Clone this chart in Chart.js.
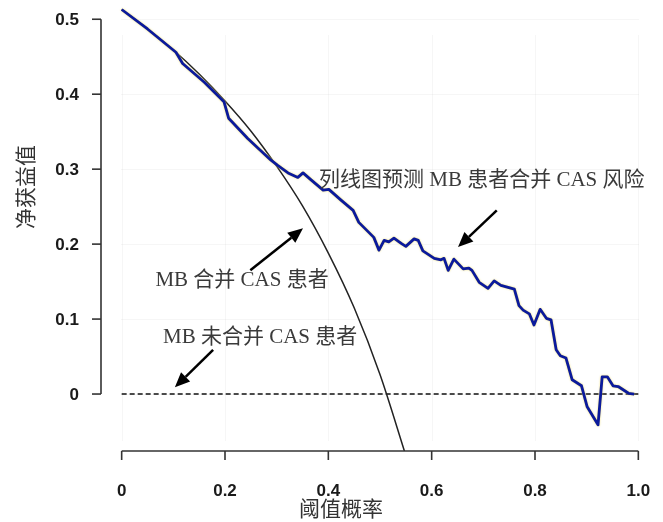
<!DOCTYPE html>
<html>
<head>
<meta charset="utf-8">
<script src="https://cdn.jsdelivr.net/npm/chart.js"></script>
<style>
  html, body { margin: 0; padding: 0; background: #ffffff; }
  #dca { display: block; }
</style>
</head>
<body>
<canvas id="dca" width="663" height="522"></canvas>
<script>
// decision curve: threshold probability vs net benefit
const modelThreshold = [0.000, 0.050, 0.105, 0.118, 0.160, 0.198, 0.207, 0.244, 0.289, 0.302,
    0.322, 0.341, 0.351, 0.366, 0.390, 0.401, 0.424, 0.448, 0.459, 0.488,
    0.498, 0.508, 0.517, 0.527, 0.541, 0.550, 0.566, 0.574, 0.583, 0.605,
    0.618, 0.624, 0.632, 0.643, 0.661, 0.672, 0.678, 0.692, 0.709, 0.721,
    0.734, 0.760, 0.769, 0.777, 0.789, 0.798, 0.810, 0.822, 0.831, 0.841,
    0.849, 0.860, 0.872, 0.890, 0.901, 0.922, 0.930, 0.940, 0.951, 0.961,
    0.981, 0.992];
const modelNetBenefit = [0.513, 0.487, 0.456, 0.441, 0.416, 0.390, 0.368, 0.341, 0.312, 0.305,
    0.295, 0.289, 0.295, 0.286, 0.272, 0.273, 0.259, 0.245, 0.229, 0.209,
    0.192, 0.205, 0.203, 0.208, 0.201, 0.197, 0.207, 0.205, 0.191, 0.181,
    0.179, 0.181, 0.165, 0.180, 0.167, 0.168, 0.165, 0.149, 0.141, 0.151,
    0.145, 0.140, 0.118, 0.112, 0.107, 0.092, 0.113, 0.101, 0.099, 0.059,
    0.051, 0.048, 0.019, 0.011, -0.017, -0.041, 0.023, 0.023, 0.011, 0.010,
    0.001, 0.000];

// "treat all" (MB 合并 CAS 患者)
const allThreshold = [0, 0.05, 0.1, 0.15, 0.2, 0.25, 0.3, 0.35, 0.4, 0.45, 0.5, 0.55];
const allNetBenefit = [0.513, 0.487, 0.459, 0.427, 0.391, 0.351, 0.304, 0.251, 0.188, 0.115, 0.026, -0.082];

// "treat none" (MB 未合并 CAS 患者)
const noneThreshold = [0, 1];
const noneNetBenefit = [0, 0];

const xTicks = [0, 0.2, 0.4, 0.6, 0.8, 1.0];
const xTickLabels = ['0', '0.2', '0.4', '0.6', '0.8', '1.0'];
const yTicks = [0, 0.1, 0.2, 0.3, 0.4, 0.5];
const yTickLabels = ['0', '0.1', '0.2', '0.3', '0.4', '0.5'];

const xTitle = '阈值概率';
const yTitle = '净获益值';

// labels and arrows, in data units
const noteTexts = ['列线图预测 MB 患者合并 CAS 风险', 'MB 合并 CAS 患者', 'MB 未合并 CAS 患者'];
const noteX = [0.697, 0.233, 0.268];
const noteY = [0.285, 0.152, 0.076];
const arrowFrom = [[0.726, 0.245], [0.249, 0.165], [0.177, 0.059]];
const arrowTo = [[0.651, 0.196], [0.351, 0.221], [0.103, 0.009]];

function toPoints(xs, ys) {
    return xs.map((x, i) => ({ x: x, y: ys[i] }));
}

const serifFont = "'Liberation Serif', 'Noto Sans CJK SC', serif";
const tickFont = "bold 17px 'Liberation Sans', Arial, sans-serif";

function drawArrow(ctx, x1, y1, x2, y2) {
    const ang = Math.atan2(y2 - y1, x2 - x1);
    const headLen = 15, headW = 6.5;
    const bx = x2 - headLen * Math.cos(ang);
    const by = y2 - headLen * Math.sin(ang);
    ctx.beginPath();
    ctx.moveTo(x1, y1);
    ctx.lineTo(bx, by);
    ctx.lineWidth = 2.5;
    ctx.strokeStyle = '#000';
    ctx.stroke();
    ctx.beginPath();
    ctx.moveTo(x2, y2);
    ctx.lineTo(bx + headW * Math.sin(ang), by - headW * Math.cos(ang));
    ctx.lineTo(bx - headW * Math.sin(ang), by + headW * Math.cos(ang));
    ctx.closePath();
    ctx.fillStyle = '#000';
    ctx.fill();
}

// R-like axes: spines only across the tick range, ticks pointing outward
const rAxesPlugin = {
    id: 'rAxes',
    beforeDatasetsDraw(chart) {
        const ctx = chart.ctx;
        const xs = chart.scales.x, ys = chart.scales.y;
        const area = chart.chartArea;
        ctx.save();
        ctx.strokeStyle = 'rgba(0,0,0,0.035)';
        ctx.lineWidth = 1;
        xTicks.forEach(v => {
            const px = Math.round(xs.getPixelForValue(v)) + 0.5;
            ctx.beginPath();
            ctx.moveTo(px, area.top + 30);
            ctx.lineTo(px, area.bottom - 10);
            ctx.stroke();
        });
        yTicks.forEach(v => {
            const py = Math.round(ys.getPixelForValue(v)) + 0.5;
            ctx.beginPath();
            ctx.moveTo(area.left + 20, py);
            ctx.lineTo(area.right - 20, py);
            ctx.stroke();
        });
        ctx.restore();
    },
    beforeDatasetDraw(chart, args) {
        if (args.index === 0) {
            chart.ctx.save();
            chart.ctx.shadowColor = 'rgba(235, 215, 90, 0.9)';
            chart.ctx.shadowBlur = 2;
        }
    },
    afterDatasetDraw(chart, args) {
        if (args.index === 0) {
            chart.ctx.restore();
        }
    },
    afterDraw(chart) {
        const ctx = chart.ctx;
        const xs = chart.scales.x, ys = chart.scales.y;
        const area = chart.chartArea;
        ctx.save();
        ctx.strokeStyle = '#333';
        ctx.lineWidth = 1.6;
        ctx.fillStyle = '#1a1a1a';
        ctx.font = tickFont;

        // x axis
        const xb = area.bottom;
        ctx.beginPath();
        ctx.moveTo(xs.getPixelForValue(xTicks[0]), xb);
        ctx.lineTo(xs.getPixelForValue(xTicks[xTicks.length - 1]), xb);
        ctx.stroke();
        ctx.textAlign = 'center';
        ctx.textBaseline = 'middle';
        xTicks.forEach((v, i) => {
            const px = xs.getPixelForValue(v);
            ctx.beginPath();
            ctx.moveTo(px, xb);
            ctx.lineTo(px, xb + 9);
            ctx.stroke();
            ctx.fillText(xTickLabels[i], px, xb + 40);
        });

        // y axis
        const yl = area.left;
        ctx.beginPath();
        ctx.moveTo(yl, ys.getPixelForValue(yTicks[0]));
        ctx.lineTo(yl, ys.getPixelForValue(yTicks[yTicks.length - 1]));
        ctx.stroke();
        ctx.textAlign = 'right';
        yTicks.forEach((v, i) => {
            const py = ys.getPixelForValue(v);
            ctx.beginPath();
            ctx.moveTo(yl, py);
            ctx.lineTo(yl - 9, py);
            ctx.stroke();
            ctx.fillText(yTickLabels[i], yl - 22, py + 1);
        });

        // axis titles
        ctx.fillStyle = '#333';
        ctx.font = "21px 'Noto Sans CJK SC', sans-serif";
        ctx.textAlign = 'center';
        ctx.fillText(xTitle, area.left + 240, xb + 57);
        ctx.save();
        ctx.translate(yl - 76, area.top + 182);
        ctx.rotate(-Math.PI / 2);
        ctx.fillText(yTitle, 0, 0);
        ctx.restore();

        // annotations
        ctx.fillStyle = '#3a3a3a';
        ctx.font = '21px ' + serifFont;
        noteTexts.forEach((t, i) => {
            ctx.fillText(t, xs.getPixelForValue(noteX[i]), ys.getPixelForValue(noteY[i]));
        });
        arrowFrom.forEach((f, i) => {
            drawArrow(ctx,
                xs.getPixelForValue(f[0]), ys.getPixelForValue(f[1]),
                xs.getPixelForValue(arrowTo[i][0]), ys.getPixelForValue(arrowTo[i][1]));
        });
        ctx.restore();
    }
};

new Chart(document.getElementById('dca'), {
    type: 'line',
    data: {
        datasets: [
            {
                label: '列线图预测 MB 患者合并 CAS 风险',
                data: toPoints(modelThreshold, modelNetBenefit),
                borderColor: '#0b1a9c',
                borderWidth: 2.8,
                pointRadius: 0,
                tension: 0,
                borderJoinStyle: 'round'
            },
            {
                label: 'MB 合并 CAS 患者',
                data: toPoints(allThreshold, allNetBenefit),
                borderColor: '#222',
                borderWidth: 1.5,
                pointRadius: 0,
                cubicInterpolationMode: 'monotone'
            },
            {
                label: 'MB 未合并 CAS 患者',
                data: toPoints(noneThreshold, noneNetBenefit),
                borderColor: '#111',
                borderWidth: 1.6,
                borderDash: [5, 3],
                pointRadius: 0
            }
        ]
    },
    options: {
        responsive: false,
        animation: false,
        layout: { padding: { left: 101, top: 5, right: 4, bottom: 71 } },
        plugins: {
            legend: { display: false },
            tooltip: { enabled: false }
        },
        scales: {
            x: { type: 'linear', min: -0.04, max: 1.04, display: false },
            y: { type: 'linear', min: -0.076, max: 0.519, display: false }
        }
    },
    plugins: [rAxesPlugin]
});
</script>
</body>
</html>
